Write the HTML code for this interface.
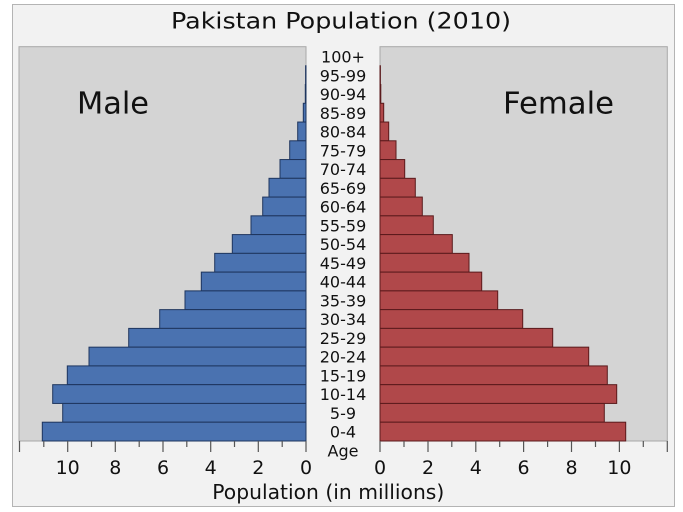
<!DOCTYPE html>
<html>
<head>
<meta charset="utf-8">
<style>
html,body{margin:0;padding:0;background:#ffffff;}
svg{display:block;}
text{font-family:"DejaVu Sans","Liberation Sans",sans-serif;fill:#111;}
</style>
</head>
<body>
<svg width="683" height="512" viewBox="0 0 683 512" xmlns="http://www.w3.org/2000/svg">
<rect x="12.5" y="4.5" width="662" height="502" fill="#f2f2f2" stroke="#b4b4b4" stroke-width="1"/>
<text x="341" y="28.5" font-size="22" text-anchor="middle" textLength="340" lengthAdjust="spacingAndGlyphs">Pakistan Population (2010)</text>

<!-- panels -->
<rect x="19" y="46.7" width="287" height="394.3" fill="#d4d4d4" stroke="#a8a8a8" stroke-width="1"/>
<rect x="380" y="46.7" width="287.3" height="394.3" fill="#d4d4d4" stroke="#a8a8a8" stroke-width="1"/>

<text x="77" y="113.5" font-size="30" textLength="72" lengthAdjust="spacingAndGlyphs">Male</text>
<text x="503" y="113.5" font-size="30" textLength="111" lengthAdjust="spacingAndGlyphs">Female</text>

<!-- male bars -->
<g fill="#4a72b0" stroke="#1e355e" stroke-width="1">
<rect x="305.6" y="65.76" width="0.4" height="18.76"/>
<rect x="305.3" y="84.52" width="0.7" height="18.76"/>
<rect x="303.3" y="103.28" width="2.7" height="18.76"/>
<rect x="297.7" y="122.04" width="8.3" height="18.76"/>
<rect x="289.7" y="140.8" width="16.3" height="18.76"/>
<rect x="280" y="159.56" width="26" height="18.76"/>
<rect x="269" y="178.32" width="37" height="18.76"/>
<rect x="262.7" y="197.08" width="43.3" height="18.76"/>
<rect x="251" y="215.84" width="55" height="18.76"/>
<rect x="232.3" y="234.6" width="73.7" height="18.76"/>
<rect x="214.7" y="253.36" width="91.3" height="18.76"/>
<rect x="201.3" y="272.12" width="104.7" height="18.76"/>
<rect x="185" y="290.88" width="121" height="18.76"/>
<rect x="159.7" y="309.64" width="146.3" height="18.76"/>
<rect x="128.7" y="328.4" width="177.3" height="18.76"/>
<rect x="89" y="347.16" width="217" height="18.76"/>
<rect x="67.3" y="365.92" width="238.7" height="18.76"/>
<rect x="52.7" y="384.68" width="253.3" height="18.76"/>
<rect x="62.7" y="403.44" width="243.3" height="18.76"/>
<rect x="42.3" y="422.2" width="263.7" height="18.8"/>
</g>

<!-- female bars -->
<g fill="#b0484a" stroke="#5a1a1c" stroke-width="1">
<rect x="380" y="65.76" width="0.4" height="18.76"/>
<rect x="380" y="84.52" width="0.8" height="18.76"/>
<rect x="380" y="103.28" width="3.7" height="18.76"/>
<rect x="380" y="122.04" width="8.7" height="18.76"/>
<rect x="380" y="140.8" width="16" height="18.76"/>
<rect x="380" y="159.56" width="24.7" height="18.76"/>
<rect x="380" y="178.32" width="35.3" height="18.76"/>
<rect x="380" y="197.08" width="42.3" height="18.76"/>
<rect x="380" y="215.84" width="53.3" height="18.76"/>
<rect x="380" y="234.6" width="72.3" height="18.76"/>
<rect x="380" y="253.36" width="89" height="18.76"/>
<rect x="380" y="272.12" width="101.7" height="18.76"/>
<rect x="380" y="290.88" width="117.7" height="18.76"/>
<rect x="380" y="309.64" width="142.7" height="18.76"/>
<rect x="380" y="328.4" width="172.7" height="18.76"/>
<rect x="380" y="347.16" width="208.7" height="18.76"/>
<rect x="380" y="365.92" width="227.3" height="18.76"/>
<rect x="380" y="384.68" width="236.7" height="18.76"/>
<rect x="380" y="403.44" width="224.3" height="18.76"/>
<rect x="380" y="422.2" width="245.7" height="18.8"/>
</g>

<!-- age labels -->
<g font-size="16" text-anchor="middle">
<text x="343" y="62.5">100+</text>
<text x="343" y="81.3">95-99</text>
<text x="343" y="100">90-94</text>
<text x="343" y="118.8">85-89</text>
<text x="343" y="137.5">80-84</text>
<text x="343" y="156.3">75-79</text>
<text x="343" y="175.1">70-74</text>
<text x="343" y="193.8">65-69</text>
<text x="343" y="212.6">60-64</text>
<text x="343" y="231.3">55-59</text>
<text x="343" y="250.1">50-54</text>
<text x="343" y="268.9">45-49</text>
<text x="343" y="287.6">40-44</text>
<text x="343" y="306.4">35-39</text>
<text x="343" y="325.1">30-34</text>
<text x="343" y="343.9">25-29</text>
<text x="343" y="362.7">20-24</text>
<text x="343" y="381.4">15-19</text>
<text x="343" y="400.2">10-14</text>
<text x="343" y="418.9">5-9</text>
<text x="343" y="437.7">0-4</text>
<text x="343" y="456.7">Age</text>
</g>

<!-- ticks -->
<g stroke="#555" stroke-width="1.2">
<line x1="306" y1="441" x2="306" y2="452"/>
<line x1="282.2" y1="441" x2="282.2" y2="447"/>
<line x1="258.3" y1="441" x2="258.3" y2="452"/>
<line x1="234.5" y1="441" x2="234.5" y2="447"/>
<line x1="210.7" y1="441" x2="210.7" y2="452"/>
<line x1="186.8" y1="441" x2="186.8" y2="447"/>
<line x1="163" y1="441" x2="163" y2="452"/>
<line x1="139.2" y1="441" x2="139.2" y2="447"/>
<line x1="115.3" y1="441" x2="115.3" y2="452"/>
<line x1="91.5" y1="441" x2="91.5" y2="447"/>
<line x1="67.7" y1="441" x2="67.7" y2="452"/>
<line x1="43.8" y1="441" x2="43.8" y2="447"/>
<line x1="19.5" y1="441" x2="19.5" y2="452"/>

<line x1="380" y1="441" x2="380" y2="452"/>
<line x1="404" y1="441" x2="404" y2="447"/>
<line x1="428" y1="441" x2="428" y2="452"/>
<line x1="451.8" y1="441" x2="451.8" y2="447"/>
<line x1="475.8" y1="441" x2="475.8" y2="452"/>
<line x1="499.7" y1="441" x2="499.7" y2="447"/>
<line x1="523.6" y1="441" x2="523.6" y2="452"/>
<line x1="547.6" y1="441" x2="547.6" y2="447"/>
<line x1="571.5" y1="441" x2="571.5" y2="452"/>
<line x1="595.5" y1="441" x2="595.5" y2="447"/>
<line x1="619.4" y1="441" x2="619.4" y2="452"/>
<line x1="643.3" y1="441" x2="643.3" y2="447"/>
<line x1="667.3" y1="441" x2="667.3" y2="452"/>
</g>

<g font-size="19" text-anchor="middle">
<text x="306" y="474">0</text>
<text x="258.3" y="474">2</text>
<text x="210.7" y="474">4</text>
<text x="163" y="474">6</text>
<text x="115.3" y="474">8</text>
<text x="67.7" y="474">10</text>
<text x="380" y="474">0</text>
<text x="428" y="474">2</text>
<text x="475.8" y="474">4</text>
<text x="523.6" y="474">6</text>
<text x="571.5" y="474">8</text>
<text x="619.4" y="474">10</text>
</g>

<text x="212.3" y="499" font-size="20" textLength="232" lengthAdjust="spacingAndGlyphs">Population (in millions)</text>
</svg>
</body>
</html>
